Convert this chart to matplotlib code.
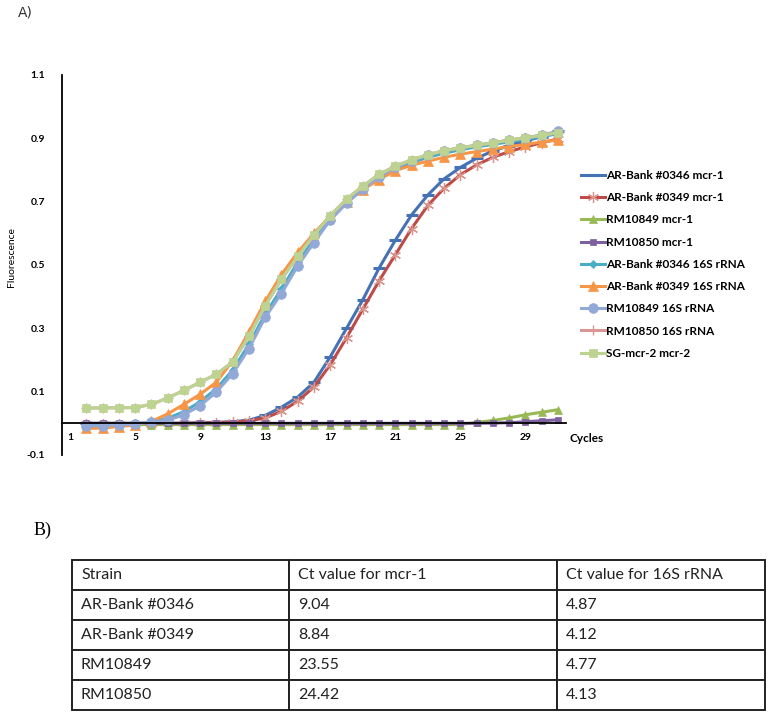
import matplotlib.pyplot as plt

# data (cycles 2..31)
cycles = list(range(2, 32))

ar0346_mcr1 = [0.0, 0.0, 0.0, 0.0, 0.0, 0.0, 0.0, 0.002, 0.003, 0.005,
               0.01, 0.025, 0.051, 0.083, 0.13, 0.21, 0.30, 0.39, 0.49, 0.578,
               0.658, 0.721, 0.772, 0.808, 0.837, 0.86, 0.877, 0.892, 0.905, 0.922]
ar0349_mcr1 = [-0.003, -0.003, -0.002, -0.002, -0.001, 0.0, 0.0, 0.001, 0.002, 0.004,
               0.008, 0.017, 0.038, 0.07, 0.115, 0.185, 0.27, 0.36, 0.45, 0.532,
               0.615, 0.688, 0.742, 0.785, 0.816, 0.84, 0.858, 0.873, 0.886, 0.898]
rm10849_mcr1 = [-0.004] * 24 + [0.003, 0.009, 0.017, 0.027, 0.035, 0.043]
rm10850_mcr1 = [0.0] * 25 + [0.001, 0.002, 0.005, 0.008, 0.011]
ar0346_16s = [-0.008, -0.007, -0.005, -0.002, 0.004, 0.016, 0.037, 0.068, 0.11, 0.168,
              0.25, 0.345, 0.425, 0.508, 0.58, 0.645, 0.697, 0.74, 0.775, 0.803,
              0.823, 0.84, 0.853, 0.864, 0.873, 0.881, 0.889, 0.897, 0.905, 0.915]
ar0349_16s = [-0.016, -0.015, -0.01, -0.005, 0.006, 0.03, 0.06, 0.092, 0.13, 0.198,
              0.288, 0.385, 0.47, 0.54, 0.6, 0.655, 0.7, 0.738, 0.77, 0.798,
              0.815, 0.828, 0.84, 0.85, 0.858, 0.866, 0.874, 0.881, 0.888, 0.895]
rm10849_16s = [-0.009, -0.007, -0.005, -0.002, 0.004, 0.01, 0.027, 0.056, 0.099, 0.157,
               0.236, 0.335, 0.41, 0.497, 0.571, 0.642, 0.695, 0.74, 0.778, 0.808,
               0.83, 0.847, 0.86, 0.87, 0.878, 0.886, 0.894, 0.902, 0.91, 0.922]
sg_mcr2 = [0.048, 0.049, 0.049, 0.05, 0.06, 0.08, 0.104, 0.13, 0.155, 0.194,
           0.275, 0.372, 0.455, 0.527, 0.595, 0.656, 0.708, 0.749, 0.786, 0.812,
           0.832, 0.848, 0.861, 0.87, 0.878, 0.886, 0.894, 0.902, 0.909, 0.918]
# RM10850 16S is hidden under the SG curve in the figure
rm10850_16s = list(sg_mcr2)

labels = ["AR-Bank #0346 mcr-1", "AR-Bank #0349 mcr-1", "RM10849 mcr-1", "RM10850 mcr-1",
          "AR-Bank #0346 16S rRNA", "AR-Bank #0349 16S rRNA", "RM10849 16S rRNA",
          "RM10850 16S rRNA", "SG-mcr-2 mcr-2"]
values = [ar0346_mcr1, ar0349_mcr1, rm10849_mcr1, rm10850_mcr1, ar0346_16s,
          ar0349_16s, rm10849_16s, rm10850_16s, sg_mcr2]

xtick_labels = [1, 5, 9, 13, 17, 21, 25, 29]
yticks = [-0.1, 0.1, 0.3, 0.5, 0.7, 0.9, 1.1]

# table
table_header = ["Strain", "Ct value for mcr-1", "Ct value for 16S rRNA"]
strains = ["AR-Bank #0346", "AR-Bank #0349", "RM10849", "RM10850"]
ct_mcr1 = ["9.04", "8.84", "23.55", "24.42"]
ct_16s = ["4.87", "4.12", "4.77", "4.13"]

# styles: color, marker, markersize, marker color, edge width
styles = [
    ("#4472B4", "_", 8, "#4472B4", 2.2),
    ("#BE4B48", (6, 2, 0), 8, "#D9958C", 0.9),
    ("#98B954", "^", 6, "#98B954", 0.5),
    ("#7D60A0", "s", 4.5, "#7D60A0", 0.5),
    ("#4BACC6", "D", 4, "#4BACC6", 0.5),
    ("#F79646", "^", 6.5, "#F79646", 0.5),
    ("#92A9D8", "o", 7, "#92A9D8", 0.5),
    ("#D99694", "+", 7, "#D99694", 1.0),
    ("#BCD391", "s", 6, "#BCD391", 0.5),
]

W, H = 771, 716
fig = plt.figure(figsize=(W / 100, H / 100), dpi=100)

ax = fig.add_axes([62 / W, 1 - 455 / H, (566 - 62) / W, (455 - 75) / H])
for lab, vals, st in zip(labels, values, styles):
    col, mk, ms, mc, mew = st
    ax.plot(cycles, vals, color=col, lw=2.2, marker=mk, markersize=ms,
            markerfacecolor=mc, markeredgecolor=mc, markeredgewidth=mew, label=lab)

ax.set_xlim(0.5, 31.5)
ax.set_ylim(-0.1, 1.1)
ax.spines["top"].set_visible(False)
ax.spines["right"].set_visible(False)
ax.spines["bottom"].set_position(("data", 0))
ax.spines["bottom"].set_linewidth(1.3)
ax.spines["left"].set_linewidth(1.3)
ax.set_xticks(xtick_labels)
ax.set_xticklabels([str(v) for v in xtick_labels], fontweight="bold", fontsize=7.5,
                   family="Lato")
ax.set_yticks(yticks)
ax.set_yticklabels([f"{v:.1f}" for v in yticks], fontweight="bold", fontsize=7.5,
                   family="Lato")
ax.tick_params(axis="both", length=0)
ax.tick_params(axis="x", pad=7)
ax.tick_params(axis="y", pad=12)

fig.text(569 / W, 1 - 439 / H, "Cycles", fontsize=8.5, fontweight="bold",
         family="Lato", va="center", ha="left")
fig.text(12 / W, 1 - 257 / H, "Fluorescence", fontsize=7.5, family="Lato",
         rotation=90, va="center", ha="center")

ax.legend(loc="upper left", bbox_to_anchor=(581 / W, 1 - 170 / H),
          bbox_transform=fig.transFigure, frameon=False, numpoints=1,
          handlelength=2.0, handletextpad=0.15, labelspacing=0.95,
          borderpad=0, borderaxespad=0,
          prop={"family": "Lato", "weight": "bold", "size": 8.5})

fig.text(18 / W, 1 - 13 / H, "A)", fontsize=10, family="DejaVu Sans",
         va="center", ha="left", color="#333333")
fig.text(34 / W, 1 - 530 / H, "B)", fontsize=13, family="Liberation Serif",
         va="center", ha="left")

# table
tab_left, tab_right, tab_top, tab_bot = 72, 765, 560, 710
col_px = [289 - 72, 557 - 289, 765 - 557]
tax = fig.add_axes([tab_left / W, 1 - tab_bot / H, (tab_right - tab_left) / W,
                    (tab_bot - tab_top) / H])
tax.axis("off")
rows = [table_header] + [list(r) for r in zip(strains, ct_mcr1, ct_16s)]
tbl = tax.table(cellText=rows, cellLoc="left", bbox=[0, 0, 1, 1],
                colWidths=[c / sum(col_px) for c in col_px])
tbl.auto_set_font_size(False)
for (r, c), cell in tbl.get_celld().items():
    cell.set_linewidth(1.4)
    cell.set_edgecolor("#222222")
    cell.PAD = 9 / col_px[c]
    cell.get_text().set_fontsize(11.5)
    cell.get_text().set_family("Lato")
    cell.get_text().set_color("#222222")

fig.savefig("out.png", dpi=100)
